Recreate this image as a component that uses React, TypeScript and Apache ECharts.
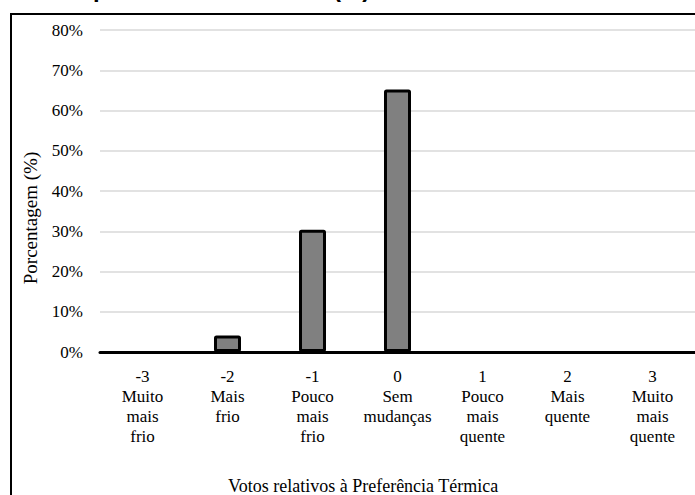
import React, { useEffect, useRef } from "react";
import * as echarts from "echarts";

const categories: string[] = [
  "-3\nMuito\nmais\nfrio",
  "-2\nMais\nfrio",
  "-1\nPouco\nmais\nfrio",
  "0\nSem\nmudanças",
  "1\nPouco\nmais\nquente",
  "2\nMais\nquente",
  "3\nMuito\nmais\nquente",
];
const percentages: number[] = [0, 4.1, 30.4, 65.2, 0, 0, 0];
const yTicks = { min: 0, max: 80, interval: 10 };
const yAxisTitle = "Porcentagem (%)";
const xAxisTitle = "Votos relativos à Preferência Térmica";

const SERIF = "Liberation Serif";

export default function App() {
  const ref = useRef<HTMLDivElement>(null);
  useEffect(() => {
    if (!ref.current) return;
    const chart = echarts.init(ref.current, undefined, { renderer: "svg" });
    chart.setOption({
      animation: false,
      backgroundColor: "#ffffff",
      textStyle: { fontFamily: SERIF },
      grid: { left: 100, top: 30, width: 598, height: 322, containLabel: false },
      xAxis: {
        type: "category",
        data: categories,
        axisLine: { show: true, lineStyle: { color: "#000", width: 3 } },
        axisTick: { show: false },
        axisLabel: {
          interval: 0,
          margin: 14,
          fontFamily: SERIF,
          fontSize: 17,
          lineHeight: 20,
          color: "#000",
          align: "center",
        },
        splitLine: { show: false },
      },
      yAxis: {
        type: "value",
        min: yTicks.min,
        max: yTicks.max,
        interval: yTicks.interval,
        axisLine: { show: false },
        axisTick: { show: false },
        axisLabel: {
          margin: 17,
          formatter: "{value}%",
          fontFamily: SERIF,
          fontSize: 17,
          color: "#000",
        },
        splitLine: { show: true, lineStyle: { color: "#d9d9d9", width: 1.5 } },
      },
      series: [
        {
          type: "bar",
          data: percentages.map((v) =>
            v === 0 ? { value: v, itemStyle: { borderWidth: 0 } } : v
          ),
          barWidth: 27,
          z: 1,
          itemStyle: {
            color: "#808080",
            borderColor: "#000",
            borderWidth: 3,
            borderRadius: 1,
          },
        },
      ],
      graphic: [
        {
          type: "rect",
          shape: { x: 11, y: 14, width: 1000, height: 1000 },
          style: { fill: "none", stroke: "#000", lineWidth: 2 },
          silent: true,
        },
        {
          type: "text",
          x: 30,
          y: 218,
          rotation: Math.PI / 2,
          style: {
            text: yAxisTitle,
            fontFamily: SERIF,
            fontSize: 19,
            fill: "#000",
            align: "center",
            verticalAlign: "middle",
          },
        },
        {
          type: "text",
          x: 228,
          y: 486,
          style: {
            text: xAxisTitle,
            fontFamily: SERIF,
            fontSize: 18,
            fill: "#000",
            align: "left",
            verticalAlign: "middle",
          },
        },
        {
          type: "text",
          x: 93,
          y: -12,
          style: {
            text: "p",
            fontFamily: "Liberation Sans",
            fontWeight: "bold",
            fontSize: 24,
            fill: "#000",
            align: "left",
            verticalAlign: "middle",
          },
        },
        {
          type: "text",
          x: 333,
          y: -12,
          style: {
            text: "(%)",
            fontFamily: "Liberation Sans",
            fontWeight: "bold",
            fontSize: 24,
            fill: "#000",
            align: "left",
            verticalAlign: "middle",
          },
        },
      ],
    });
    return () => chart.dispose();
  }, []);
  return (
    <div
      ref={ref}
      style={{ position: "fixed", left: 0, top: 0, width: 695, height: 495, background: "#fff" }}
    />
  );
}
